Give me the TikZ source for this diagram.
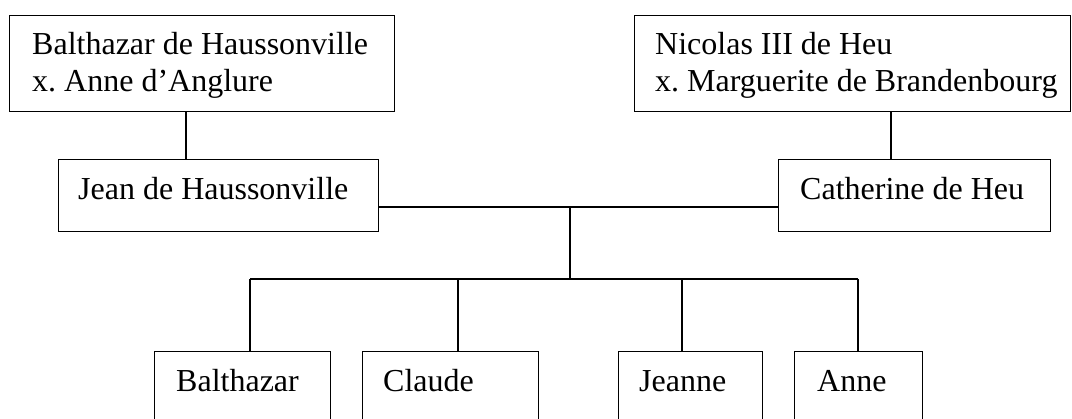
\documentclass[tikz,border=0pt]{standalone}
\usepackage{fontspec}
\setmainfont{Liberation Serif}
\frenchspacing
\begin{document}
\begin{tikzpicture}[x=1pt,y=-1pt,
  box/.style={draw,line width=1.2pt,inner sep=0pt,anchor=north west},
  txt/.style={anchor=base west,inner sep=0pt,font=\fontsize{32}{37}\selectfont},
  link/.style={line width=1.2pt}]
\clip (0,0) rectangle (1072,419);
\fill[white] (0,0) rectangle (1072,419);
% top generation
\node[box,minimum width=385pt,minimum height=96pt] (b1) at (9,15) {};
\node[txt] (b1a) at (32,55) {Balthazar de Haussonville};
\node[txt] (b1b) at (32,92) {x.\ Anne d’Anglure};
\node[box,minimum width=436pt,minimum height=96pt] (b2) at (634,15) {};
\node[txt] (b2a) at (655,55) {Nicolas III de Heu};
\node[txt] (b2b) at (655,92) {x.\ Marguerite de Brandenbourg};
% second generation
\node[box,minimum width=320pt,minimum height=72pt] (jean) at (58,159) {};
\node[txt] (jeant) at (78,200) {Jean de Haussonville};
\node[box,minimum width=272pt,minimum height=72pt] (cath) at (778,159) {};
\node[txt] (catht) at (800,200) {Catherine de Heu};
% children
\node[box,minimum width=176pt,minimum height=100pt] (c1) at (154,351) {};
\node[txt] (c1t) at (176,392) {Balthazar};
\node[box,minimum width=176pt,minimum height=100pt] (c2) at (362,351) {};
\node[txt] (c2t) at (383,392) {Claude};
\node[box,minimum width=144pt,minimum height=100pt] (c3) at (618,351) {};
\node[txt] (c3t) at (639,392) {Jeanne};
\node[box,minimum width=128pt,minimum height=100pt] (c4) at (794,351) {};
\node[txt] (c4t) at (817,392) {Anne};
% helper coordinates
\coordinate (xa) at (186,0);
\coordinate (xb) at (891,0);
\coordinate (mid) at (570,207);
\coordinate (fork) at (570,279);
\coordinate (k1) at (250,279);
\coordinate (k2) at (458,279);
\coordinate (k3) at (682,279);
\coordinate (k4) at (858,279);
% connectors
\draw[link] (b1.south -| xa) -- (jean.north -| xa);
\draw[link] (b2.south -| xb) -- (cath.north -| xb);
\draw[link] (jean.east |- mid) -- (cath.west |- mid);
\draw[link] (mid) -- (fork);
\draw[link] (k1) -- (k4);
\draw[link] (k1) -- (c1.north -| k1);
\draw[link] (k2) -- (c2.north -| k2);
\draw[link] (k3) -- (c3.north -| k3);
\draw[link] (k4) -- (c4.north -| k4);
\end{tikzpicture}
\end{document}
